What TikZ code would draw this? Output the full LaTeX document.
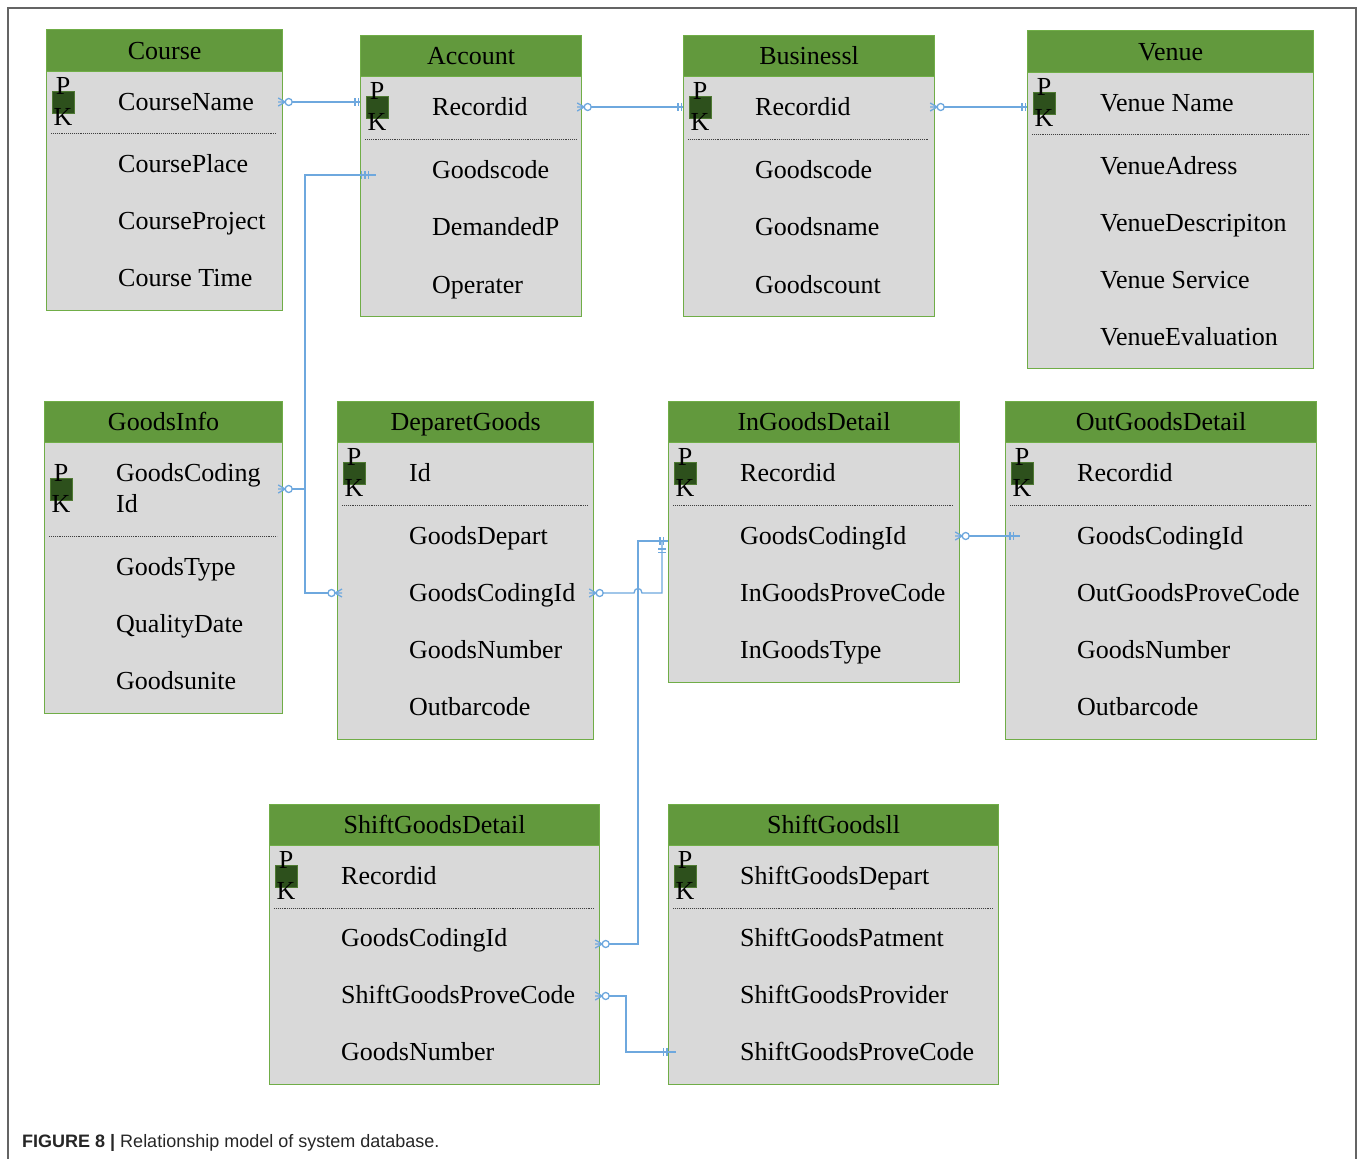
\documentclass[tikz,border=0pt]{standalone}
\usepackage{fontspec}
\setmainfont{Liberation Serif}
\newfontfamily\capfont{Liberation Sans}
\definecolor{hdrgreen}{RGB}{98,153,61}
\definecolor{boxgreen}{RGB}{112,173,71}
\definecolor{bodygray}{RGB}{217,217,217}
\definecolor{pkgreen}{RGB}{45,80,28}
\definecolor{connblue}{RGB}{110,168,222}
\definecolor{framegray}{RGB}{100,100,100}
\newcommand\ertab[8]{%
  \node[hdr, minimum width={(#4-#2)*1pt}, minimum height={(#5-#3)*1pt}] (#1-h) at (#2,#3) {#8};
  \node[bodybox, minimum width={(#4-#2)*1pt}, minimum height={(#6-#5)*1pt}] (#1-b) at (#2,#5) {};
  \draw[sep] (#2+5,#7) -- (#4-5,#7);
}
\newcommand\fld[4]{\node[fld] (#1) at (#2,#3) {#4};}
\newcommand\pkicon[3]{%
  \node[pkbox] (#1) at (#2,#3) {};
  \node[pkl] (#1-p) at (#2,#3-16) {P};
  \node[pkl] (#1-k) at (#2,#3+15) {K};
}
\begin{document}
\begin{tikzpicture}[x=1pt,y=-1pt,
  hdr/.style={draw=boxgreen, line width=1.2pt, fill=hdrgreen, anchor=north west, inner sep=0pt,
    text height=17pt, text depth=0pt, font=\fontsize{26}{30}\selectfont},
  bodybox/.style={draw=boxgreen, line width=1.2pt, fill=bodygray, anchor=north west, inner sep=0pt},
  fld/.style={anchor=west, inner sep=0pt, text height=17pt, text depth=0pt, font=\fontsize{26}{30}\selectfont},
  sep/.style={densely dotted, line width=0.9pt, black!75},
  conn/.style={draw=connblue, line width=1.3pt},
  pkbox/.style={fill=pkgreen, draw=boxgreen!70!black, line width=0.6pt, minimum size=22pt, inner sep=0pt},
  pkl/.style={inner sep=0pt, font=\fontsize{26}{30}\selectfont},
  crowo/.pic={\draw[conn] (-5,-4) -- (2,0) -- (-5,4) (-5,0) -- (2,0);
              \draw[conn, fill=white] (5.5,0) circle[radius=3.5pt];},
  bars/.pic={\draw[conn] (0,-4) -- (0,4) (-3.5,-4) -- (-3.5,4);},
]
\fill[white] (0,0) rectangle (1358,1159);
\useasboundingbox (0,0) rectangle (1358,1159);
\draw[framegray, line width=1.5pt] (8,1159) -- (8,8) -- (1356,8) -- (1356,1159);

% ---- tables ----
\ertab{c}{46}{29}{282}{71}{310}{133}{Course}
\ertab{a}{360}{35}{581}{76}{316}{139}{Account}
\ertab{b}{683}{35}{934}{76}{316}{139}{Businessl}
\ertab{v}{1027}{30}{1313}{72}{368}{134}{Venue}
\ertab{gi}{44}{401}{282}{442}{713}{536}{GoodsInfo}
\ertab{d}{337}{401}{593}{442}{739}{505}{DeparetGoods}
\ertab{i}{668}{401}{959}{442}{682}{505}{InGoodsDetail}
\ertab{o}{1005}{401}{1316}{442}{739}{505}{OutGoodsDetail}
\ertab{sd}{269}{804}{599}{845}{1084}{908}{ShiftGoodsDetail}
\ertab{s}{668}{804}{998}{845}{1084}{908}{ShiftGoodsll}

% ---- PK icons ----
\pkicon{pkc}{63}{102}
\pkicon{pka}{377}{107}
\pkicon{pkb}{700}{107}
\pkicon{pkv}{1044}{103}
\pkicon{pkgi}{61}{489}
\pkicon{pkd}{354}{473}
\pkicon{pki}{685}{473}
\pkicon{pko}{1022}{473}
\pkicon{pksd}{286}{876}
\pkicon{pks}{685}{876}

% ---- fields ----
\fld{cName}{118}{102}{CourseName}
\fld{cPlace}{118}{164}{CoursePlace}
\fld{cProj}{118}{221}{CourseProject}
\fld{cTime}{118}{278}{Course Time}

\fld{aRec}{432}{107}{Recordid}
\fld{aGoods}{432}{170}{Goodscode}
\fld{aDem}{432}{227}{DemandedP}
\fld{aOp}{432}{285}{Operater}

\fld{bRec}{755}{107}{Recordid}
\fld{bGoods}{755}{170}{Goodscode}
\fld{bName}{755}{227}{Goodsname}
\fld{bCount}{755}{285}{Goodscount}

\fld{vName}{1100}{103}{Venue Name}
\fld{vAdr}{1100}{166}{VenueAdress}
\fld{vDesc}{1100}{223}{VenueDescripiton}
\fld{vServ}{1100}{280}{Venue Service}
\fld{vEval}{1100}{337}{VenueEvaluation}

\fld{giCoding}{116}{473}{GoodsCoding}
\fld{giId}{116}{504}{Id}
\fld{giType}{116}{567}{GoodsType}
\fld{giQual}{116}{624}{QualityDate}
\fld{giUnite}{116}{681}{Goodsunite}

\fld{dId}{409}{473}{Id}
\fld{dDepart}{409}{536}{GoodsDepart}
\fld{dCode}{409}{593}{GoodsCodingId}
\fld{dNum}{409}{650}{GoodsNumber}
\fld{dOut}{409}{707}{Outbarcode}

\fld{iRec}{740}{473}{Recordid}
\fld{iCode}{740}{536}{GoodsCodingId}
\fld{iProve}{740}{593}{InGoodsProveCode}
\fld{iType}{740}{650}{InGoodsType}

\fld{oRec}{1077}{473}{Recordid}
\fld{oCode}{1077}{536}{GoodsCodingId}
\fld{oProve}{1077}{593}{OutGoodsProveCode}
\fld{oNum}{1077}{650}{GoodsNumber}
\fld{oOut}{1077}{707}{Outbarcode}

\fld{sdRec}{341}{876}{Recordid}
\fld{sdCode}{341}{938}{GoodsCodingId}
\fld{sdProve}{341}{995}{ShiftGoodsProveCode}
\fld{sdNum}{341}{1052}{GoodsNumber}

\fld{sDep}{740}{876}{ShiftGoodsDepart}
\fld{sPat}{740}{938}{ShiftGoodsPatment}
\fld{sProv}{740}{995}{ShiftGoodsProvider}
\fld{sProve}{740}{1052}{ShiftGoodsProveCode}

% ---- connectors ----
\draw[conn] (c-b.east |- cName) -- (a-b.west |- cName);
\draw[conn] (a-b.east |- aRec) -- (b-b.west |- aRec);
\draw[conn] (b-b.east |- bRec) -- (v-b.west |- bRec);
\draw[conn] (gi-b.east |- pkgi) -- (305,489) |- ([xshift=16pt,yshift=-5pt]a-b.west |- aGoods);
\draw[conn] (d-b.west |- dCode) -- (305,593) -- (305,489);
\draw[conn] (d-b.east |- dCode) -- (634,593) .. controls (634,587) and (642,587) .. (642,593) -- (662,593) -- (662,541);
\draw[conn] ([yshift=-6pt]sd-b.east |- sdCode) -- (638,944) -- (638,541) -- (i-b.west |- 0,541);
\draw[conn] (i-b.east |- iCode) -- ([xshift=15pt]o-b.west |- iCode);
\draw[conn] ([yshift=-1pt]sd-b.east |- sdProve) -- (626,996) -- (626,1052) -- ([xshift=8pt]s-b.west |- sProve);

% ---- ends: zero-or-many ----
\pic at (c-b.east |- cName) {crowo};
\pic at (a-b.east |- aRec) {crowo};
\pic at (b-b.east |- bRec) {crowo};
\pic at (gi-b.east |- pkgi) {crowo};
\pic[rotate=180] at (d-b.west |- dCode) {crowo};
\pic at (d-b.east |- dCode) {crowo};
\pic at ([yshift=-6pt]sd-b.east |- sdCode) {crowo};
\pic at (i-b.east |- iCode) {crowo};
\pic at ([yshift=-1pt]sd-b.east |- sdProve) {crowo};

% ---- ends: one and only one ----
\pic at ([xshift=-1.5pt]a-b.west |- cName) {bars};
\pic at ([xshift=-1.5pt]b-b.west |- aRec) {bars};
\pic at ([xshift=-1.5pt]v-b.west |- bRec) {bars};
\pic at ([xshift=5pt,yshift=-5pt]a-b.west |- aGoods) {bars};
\pic at ([xshift=8.5pt,yshift=-5pt]a-b.west |- aGoods) {bars};
\pic[rotate=90] at (662,549) {bars};
\pic at ([xshift=-4.5pt]i-b.west |- 0,541) {bars};
\pic at ([xshift=8.5pt]o-b.west |- iCode) {bars};
\pic at ([xshift=-1pt]s-b.west |- sProve) {bars};

% ---- caption ----
\node[anchor=base west, inner sep=0pt, font=\capfont\fontsize{18}{22}\selectfont, text=black!85] (cap) at (22,1147)
  {\textbf{FIGURE 8 |} Relationship model of system database.};
\end{tikzpicture}
\end{document}
